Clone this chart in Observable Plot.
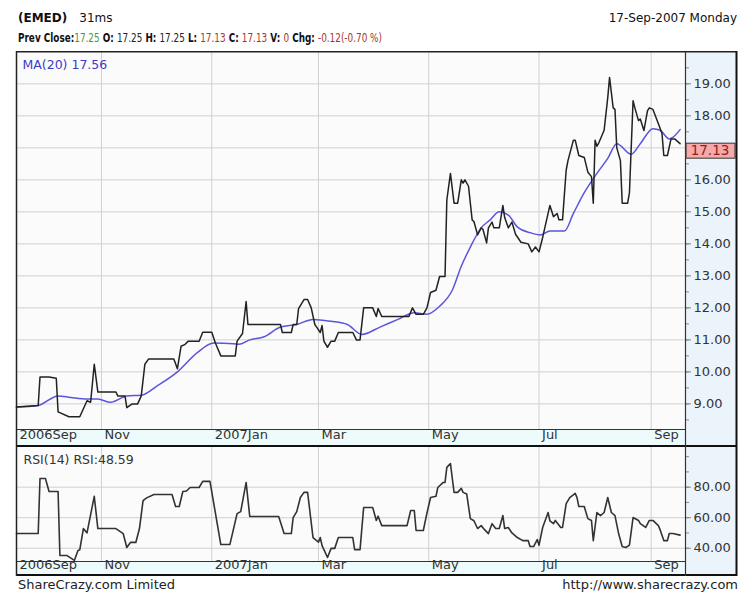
<!DOCTYPE html>
<html><head><meta charset="utf-8">
<script src="https://cdn.jsdelivr.net/npm/d3@7"></script>
<script src="https://cdn.jsdelivr.net/npm/@observablehq/plot@0.6"></script>
<style>
body{margin:0;background:#fff;font-family:"DejaVu Sans",Verdana,sans-serif;color:#111;}
#wrap{position:relative;width:747px;height:592px;overflow:hidden;background:#fff;}
.abs{position:absolute;white-space:pre;line-height:14px;}
#line2{transform-origin:0 50%;font-size:12.5px;}
#price,#rsi{position:absolute;left:0;}
#price{top:51px;} #rsi{top:447px;}
</style></head><body><div id="wrap">
<div class="abs" id="line1" style="left:18px;top:11px;font-size:12px;"></div>
<div class="abs" id="dateLbl" style="right:10px;top:11px;font-size:12px;"></div>
<div class="abs" id="line2" style="left:18px;top:31px;"></div>
<div id="price"></div>
<div id="rsi"></div>
<div class="abs" id="footL" style="left:18px;top:578px;font-size:13px;color:#222;"></div>
<div class="abs" id="footR" style="right:9px;top:578px;font-size:13px;color:#222;"></div>
</div>
<script>
// ---------- data ----------
const symbol = "(EMED)";
const timing = "31ms";
const dateText = "17-Sep-2007 Monday";
const quoteFields = [
  ["Prev Close:", "#111", true], ["17.25", "#3a9a3a", false],
  [" O: ", "#111", true], ["17.25", "#222", false],
  [" H: ", "#111", true], ["17.25", "#222", false],
  [" L: ", "#111", true], ["17.13", "#a83232", false],
  [" C: ", "#111", true], ["17.13", "#a83232", false],
  [" V: ", "#111", true], ["0", "#a83232", false],
  [" Chg: ", "#111", true], ["-0.12(-0.70 %)", "#a83232", false]
];
const footerLeft = "ShareCrazy.com Limited";
const footerRight = "http://www.sharecrazy.com";
const maLabel = "MA(20) 17.56";
const rsiLabel = "RSI(14) RSI:48.59";
const lastClose = 17.13;
const xDomain = ["2006-09-15", "2007-09-20"];
const monthTicks = [
  ["2006-09-15", "2006Sep"], ["2006-11-01", "Nov"], ["2007-01-01", "2007Jan"],
  ["2007-03-01", "Mar"], ["2007-05-01", "May"], ["2007-07-01", "Jul"], ["2007-09-01", "Sep"]
];
const gridMonths = ["2006-11-01", "2007-01-01", "2007-03-01", "2007-05-01", "2007-07-01", "2007-09-01"];
const priceDomain = [8.2, 20.01];
const priceGrid = [9, 10, 11, 12, 13, 14, 15, 16, 17, 18, 19];
const priceTicks = [9, 10, 11, 12, 13, 14, 15, 16, 18, 19]; // 17.00 sits under the last-close box
const priceMinor = [8.5, 9, 9.5, 10, 10.5, 11, 11.5, 12, 12.5, 13, 13.5, 14, 14.5, 15, 15.5, 16, 16.5, 17, 17.5, 18, 18.5, 19, 19.5];
const rsiDomain = [31.3, 106];
const rsiTicks = [40, 60, 80];
const rsiMinor = [40, 50, 60, 70, 80, 90, 100];

const price = [
["2006-09-15",8.90],["2006-09-27",8.95],["2006-09-28",9.84],["2006-10-03",9.84],["2006-10-07",9.80],["2006-10-08",8.75],["2006-10-14",8.60],["2006-10-20",8.60],["2006-10-22",8.85],["2006-10-24",9.10],["2006-10-26",9.05],["2006-10-28",10.24],["2006-10-30",9.37],["2006-11-09",9.37],["2006-11-10",9.25],["2006-11-14",9.25],["2006-11-15",8.88],["2006-11-18",9.00],["2006-11-21",9.00],["2006-11-23",9.25],["2006-11-25",10.24],["2006-11-27",10.40],["2006-12-11",10.40],["2006-12-13",10.10],["2006-12-15",10.80],["2006-12-17",10.85],["2006-12-19",10.96],["2006-12-25",10.96],["2006-12-27",11.24],["2007-01-01",11.24],["2007-01-03",10.90],["2007-01-06",10.50],["2007-01-14",10.50],["2007-01-15",10.96],["2007-01-18",11.20],["2007-01-20",12.20],["2007-01-21",11.48],["2007-02-08",11.48],["2007-02-09",11.23],["2007-02-14",11.23],["2007-02-15",11.48],["2007-02-17",11.48],["2007-02-18",11.98],["2007-02-21",12.26],["2007-02-23",12.26],["2007-02-25",12.00],["2007-02-27",11.48],["2007-02-28",11.40],["2007-03-02",11.23],["2007-03-03",11.45],["2007-03-04",10.96],["2007-03-06",10.77],["2007-03-08",10.96],["2007-03-10",10.96],["2007-03-12",11.23],["2007-03-20",11.23],["2007-03-22",11.00],["2007-03-24",11.00],["2007-03-26",12.00],["2007-03-31",12.00],["2007-04-02",11.73],["2007-04-03",11.98],["2007-04-05",11.73],["2007-04-20",11.73],["2007-04-22",12.00],["2007-04-24",11.80],["2007-04-28",11.80],["2007-04-30",12.00],["2007-05-02",12.48],["2007-05-05",12.55],["2007-05-07",12.98],["2007-05-10",12.98],["2007-05-11",15.37],["2007-05-13",16.20],["2007-05-15",15.27],["2007-05-17",15.27],["2007-05-19",16.00],["2007-05-20",15.90],["2007-05-21",16.00],["2007-05-23",15.80],["2007-05-25",14.75],["2007-05-26",14.70],["2007-05-28",14.28],["2007-05-30",14.50],["2007-05-31",14.45],["2007-06-02",14.03],["2007-06-03",14.50],["2007-06-05",14.68],["2007-06-06",14.50],["2007-06-09",14.50],["2007-06-11",15.20],["2007-06-12",14.82],["2007-06-14",14.50],["2007-06-16",14.68],["2007-06-18",14.30],["2007-06-21",14.05],["2007-06-25",14.00],["2007-06-27",13.75],["2007-06-29",13.90],["2007-07-01",13.75],["2007-07-03",14.20],["2007-07-06",14.95],["2007-07-07",15.20],["2007-07-09",14.85],["2007-07-11",14.95],["2007-07-12",14.75],["2007-07-14",14.75],["2007-07-16",16.30],["2007-07-17",16.60],["2007-07-20",17.24],["2007-07-21",17.24],["2007-07-23",16.76],["2007-07-26",16.70],["2007-07-28",16.24],["2007-07-30",16.10],["2007-07-31",15.27],["2007-08-01",17.24],["2007-08-02",17.05],["2007-08-03",17.15],["2007-08-06",17.55],["2007-08-08",18.57],["2007-08-09",19.20],["2007-08-11",18.25],["2007-08-12",18.20],["2007-08-13",17.00],["2007-08-15",16.60],["2007-08-16",15.27],["2007-08-19",15.27],["2007-08-20",15.60],["2007-08-22",18.47],["2007-08-23",18.25],["2007-08-25",17.85],["2007-08-26",17.90],["2007-08-28",17.54],["2007-08-30",18.16],["2007-08-31",18.25],["2007-09-02",18.20],["2007-09-05",17.75],["2007-09-07",17.45],["2007-09-08",16.76],["2007-09-10",16.76],["2007-09-12",17.28],["2007-09-14",17.28],["2007-09-17",17.13]
];
const ma20 = [
["2006-09-15",8.90],["2006-09-27",8.95],["2006-10-08",9.25],["2006-10-15",9.20],["2006-10-24",9.15],["2006-10-30",9.15],["2006-11-06",9.05],["2006-11-15",9.25],["2006-11-23",9.27],["2006-12-02",9.57],["2006-12-13",10.00],["2006-12-24",10.60],["2007-01-02",10.90],["2007-01-13",10.88],["2007-01-16",10.86],["2007-01-22",11.00],["2007-01-30",11.10],["2007-02-08",11.40],["2007-02-17",11.48],["2007-02-26",11.64],["2007-03-08",11.58],["2007-03-17",11.48],["2007-03-25",11.17],["2007-04-04",11.40],["2007-04-14",11.64],["2007-04-23",11.85],["2007-04-30",11.80],["2007-05-07",12.05],["2007-05-14",12.55],["2007-05-19",13.30],["2007-05-24",13.90],["2007-05-30",14.50],["2007-06-04",14.75],["2007-06-09",15.00],["2007-06-14",14.90],["2007-06-19",14.53],["2007-06-26",14.35],["2007-07-02",14.28],["2007-07-07",14.40],["2007-07-15",14.40],["2007-07-20",14.95],["2007-07-26",15.60],["2007-08-02",16.20],["2007-08-08",16.67],["2007-08-13",17.13],["2007-08-21",16.80],["2007-08-26",17.13],["2007-09-02",17.60],["2007-09-06",17.55],["2007-09-11",17.28],["2007-09-13",17.33],["2007-09-17",17.57]
];
const rsi14 = [
["2006-09-15",49.6],["2006-09-27",49.6],["2006-09-28",85.7],["2006-10-01",85.7],["2006-10-03",77.2],["2006-10-08",77.2],["2006-10-09",35.2],["2006-10-13",35.2],["2006-10-17",32.0],["2006-10-19",38.5],["2006-10-20",39.0],["2006-10-22",52.9],["2006-10-24",50.0],["2006-10-28",74.0],["2006-10-30",52.9],["2006-11-09",52.9],["2006-11-13",49.6],["2006-11-15",40.5],["2006-11-17",43.8],["2006-11-20",43.8],["2006-11-22",52.9],["2006-11-24",71.2],["2006-11-26",73.0],["2006-11-30",75.2],["2006-12-10",75.2],["2006-12-12",67.3],["2006-12-14",67.3],["2006-12-16",77.2],["2006-12-18",77.5],["2006-12-20",79.8],["2006-12-25",79.8],["2006-12-27",83.8],["2006-12-31",83.8],["2007-01-06",42.4],["2007-01-11",42.4],["2007-01-15",62.7],["2007-01-17",64.0],["2007-01-20",83.1],["2007-01-22",60.8],["2007-02-07",60.8],["2007-02-10",49.6],["2007-02-14",49.6],["2007-02-15",60.1],["2007-02-17",64.0],["2007-02-19",73.2],["2007-02-21",76.6],["2007-02-23",76.6],["2007-02-26",47.0],["2007-03-01",44.0],["2007-03-02",47.0],["2007-03-03",41.7],["2007-03-06",33.9],["2007-03-08",39.9],["2007-03-10",39.9],["2007-03-12",47.0],["2007-03-20",47.0],["2007-03-21",39.1],["2007-03-24",39.1],["2007-03-26",66.7],["2007-03-31",66.7],["2007-04-02",58.2],["2007-04-03",61.0],["2007-04-05",54.8],["2007-04-19",54.8],["2007-04-21",64.7],["2007-04-23",64.7],["2007-04-24",51.6],["2007-04-28",51.6],["2007-04-30",63.0],["2007-05-02",73.2],["2007-05-05",74.0],["2007-05-06",79.8],["2007-05-09",83.1],["2007-05-10",83.1],["2007-05-11",93.0],["2007-05-13",95.5],["2007-05-15",76.6],["2007-05-17",76.6],["2007-05-19",79.2],["2007-05-20",76.6],["2007-05-22",75.5],["2007-05-24",59.4],["2007-05-26",58.0],["2007-05-28",52.9],["2007-05-30",54.8],["2007-06-01",52.0],["2007-06-03",49.6],["2007-06-05",56.1],["2007-06-07",52.9],["2007-06-09",52.9],["2007-06-11",61.4],["2007-06-12",52.9],["2007-06-14",53.6],["2007-06-16",50.0],["2007-06-19",47.0],["2007-06-22",45.0],["2007-06-25",45.0],["2007-06-26",41.1],["2007-06-28",41.1],["2007-06-30",45.7],["2007-07-01",42.0],["2007-07-03",53.6],["2007-07-06",63.4],["2007-07-07",58.0],["2007-07-09",56.1],["2007-07-10",58.2],["2007-07-13",53.6],["2007-07-14",53.6],["2007-07-16",69.2],["2007-07-18",73.2],["2007-07-21",75.9],["2007-07-22",73.2],["2007-07-23",67.3],["2007-07-26",67.3],["2007-07-28",59.4],["2007-07-30",58.2],["2007-07-31",45.0],["2007-08-02",63.4],["2007-08-04",61.4],["2007-08-06",63.4],["2007-08-08",73.2],["2007-08-10",63.4],["2007-08-12",61.4],["2007-08-14",49.6],["2007-08-16",41.1],["2007-08-18",40.5],["2007-08-20",42.0],["2007-08-22",60.1],["2007-08-25",58.2],["2007-08-26",56.1],["2007-08-29",53.6],["2007-08-31",58.2],["2007-09-02",58.2],["2007-09-05",54.8],["2007-09-06",52.0],["2007-09-08",45.0],["2007-09-10",45.0],["2007-09-11",49.6],["2007-09-13",49.6],["2007-09-17",48.6]
];

// ---------- header / footer ----------
const l1 = document.getElementById("line1");
const b = document.createElement("b"); b.textContent = symbol; l1.appendChild(b);
const t = document.createElement("span"); t.textContent = timing; t.style.marginLeft = "12px"; l1.appendChild(t);
document.getElementById("dateLbl").textContent = dateText;
const l2 = document.getElementById("line2");
for (const [txt, col, bold] of quoteFields) {
  const s = document.createElement("span");
  s.textContent = txt; s.style.color = col; if (bold) s.style.fontWeight = "bold";
  l2.appendChild(s);
}
const w2 = l2.getBoundingClientRect().width;
l2.style.transform = `scaleX(${364 / w2})`;
document.getElementById("footL").textContent = footerLeft;
document.getElementById("footR").textContent = footerRight;

// ---------- helpers ----------
const P = s => new Date(s + "T00:00:00Z");
const W = 747, edgeGap = 10;
const font = "DejaVu Sans, Verdana, sans-serif";

function back(index, scales, values, dim) {
  const g = d3.create("svg:g");
  const L = dim.marginLeft, R = dim.width - dim.marginRight, B = dim.height - dim.marginBottom, H = dim.height, E = dim.width - edgeGap;
  g.append("rect").attr("x", L).attr("y", 0).attr("width", R - L).attr("height", B).attr("fill", "#fbfbfb");
  g.append("rect").attr("x", L).attr("y", B).attr("width", R - L).attr("height", H - B).attr("fill", "#eefbfd");
  g.append("rect").attr("x", R).attr("y", 0).attr("width", E - R).attr("height", H).attr("fill", "#ecf4fb");
  return g.node();
}
function frame(top) {
  return (index, scales, values, dim) => {
    const g = d3.create("svg:g").attr("fill", "none");
    const L = dim.marginLeft, R = dim.width - dim.marginRight, B = dim.height - dim.marginBottom, H = dim.height, E = dim.width - edgeGap;
    if (top) g.append("line").attr("x1", L).attr("x2", E).attr("y1", 0.75).attr("y2", 0.75).attr("stroke", "#222").attr("stroke-width", 1.5);
    g.append("line").attr("x1", L).attr("x2", R).attr("y1", B + 0.5).attr("y2", B + 0.5).attr("stroke", "#333").attr("stroke-width", 1.2);
    g.append("line").attr("x1", L).attr("x2", E).attr("y1", H - 1).attr("y2", H - 1).attr("stroke", "#111").attr("stroke-width", 2);
    g.append("line").attr("x1", L + 0.5).attr("x2", L + 0.5).attr("y1", 0).attr("y2", H).attr("stroke", "#222").attr("stroke-width", 1.5);
    g.append("line").attr("x1", R + 0.5).attr("x2", R + 0.5).attr("y1", 0).attr("y2", H).attr("stroke", "#333").attr("stroke-width", 1.2);
    g.append("line").attr("x1", E - 0.5).attr("x2", E - 0.5).attr("y1", 0).attr("y2", H).attr("stroke", "#111").attr("stroke-width", 2);
    return g.node();
  };
}
function lastBox(index, scales, values, dim) {
  const g = d3.create("svg:g");
  const R = dim.width - dim.marginRight, E = dim.width - edgeGap;
  const y0 = scales.y(lastClose);
  g.append("rect").attr("x", R + 1).attr("y", y0).attr("width", E - R - 3).attr("height", 15)
    .attr("fill", "#f6a9a9").attr("stroke", "#333").attr("stroke-width", 1);
  g.append("text").attr("x", (R + E) / 2 - 1).attr("y", y0 + 7.5).attr("dy", "0.35em")
    .attr("text-anchor", "middle").attr("fill", "#8e2020").attr("font-size", 13.5).attr("font-family", font)
    .text(lastClose.toFixed(2));
  return g.node();
}
const xOpt = {type: "utc", domain: xDomain.map(P), axis: null};

// ---------- price panel ----------
const priceChart = Plot.plot({
  width: W, height: 396, marginLeft: 16, marginRight: 62, marginTop: 0, marginBottom: 18,
  style: {background: "transparent", fontFamily: font, fontSize: "13px", overflow: "visible"},
  x: xOpt,
  y: {domain: priceDomain, axis: null},
  marks: [
    back,
    Plot.gridY(priceGrid, {stroke: "#d0d0d0", strokeOpacity: 1}),
    Plot.gridX(gridMonths.map(P), {stroke: "#d0d0d0", strokeOpacity: 1}),
    Plot.line(ma20, {x: d => P(d[0]), y: d => d[1], stroke: "#5a55dc", strokeWidth: 1.5, curve: "monotone-x"}),
    Plot.line(price, {x: d => P(d[0]), y: d => d[1], stroke: "#222", strokeWidth: 1.5}),
    Plot.text([maLabel], {text: d => d, frameAnchor: "top-left", dx: 6, dy: 9, textAnchor: "start", fill: "#3b3bc8", fontSize: 12.5}),
    Plot.axisY(priceMinor, {anchor: "right", tickSize: 3, tickFormat: () => "", stroke: "#888"}),
    Plot.axisY(priceTicks, {anchor: "right", tickSize: 5, tickPadding: 3, tickFormat: d => d.toFixed(2), fill: "#333", stroke: "#888", fontSize: 13, textAnchor: "start"}),
    lastBox,
    Plot.text(monthTicks, {x: d => P(d[0]), text: d => d[1], frameAnchor: "bottom", textAnchor: "start", dx: 3, dy: 9, fill: "#333", fontSize: 13}),
    frame(true)
  ]
});
document.getElementById("price").appendChild(priceChart);

// ---------- RSI panel ----------
const rsiChart = Plot.plot({
  width: W, height: 129, marginLeft: 16, marginRight: 62, marginTop: 0, marginBottom: 15,
  style: {background: "transparent", fontFamily: font, fontSize: "13px", overflow: "visible"},
  x: xOpt,
  y: {domain: rsiDomain, axis: null},
  marks: [
    back,
    Plot.gridY(rsiTicks, {stroke: "#d0d0d0", strokeOpacity: 1}),
    Plot.gridX(gridMonths.map(P), {stroke: "#d0d0d0", strokeOpacity: 1}),
    Plot.line(rsi14, {x: d => P(d[0]), y: d => d[1], stroke: "#333", strokeWidth: 1.6}),
    Plot.text([rsiLabel], {text: d => d, frameAnchor: "top-left", dx: 7, dy: 8, textAnchor: "start", fill: "#333", fontSize: 12.5}),
    Plot.axisY(rsiMinor, {anchor: "right", tickSize: 3, tickFormat: () => "", stroke: "#888"}),
    Plot.axisY(rsiTicks, {anchor: "right", tickSize: 5, tickPadding: 3, tickFormat: d => d.toFixed(2), fill: "#333", stroke: "#888", fontSize: 13, textAnchor: "start"}),
    Plot.text(monthTicks, {x: d => P(d[0]), text: d => d[1], frameAnchor: "bottom", textAnchor: "start", dx: 3, dy: 7.5, fill: "#333", fontSize: 13}),
    frame(false)
  ]
});
document.getElementById("rsi").appendChild(rsiChart);
</script></body></html>
